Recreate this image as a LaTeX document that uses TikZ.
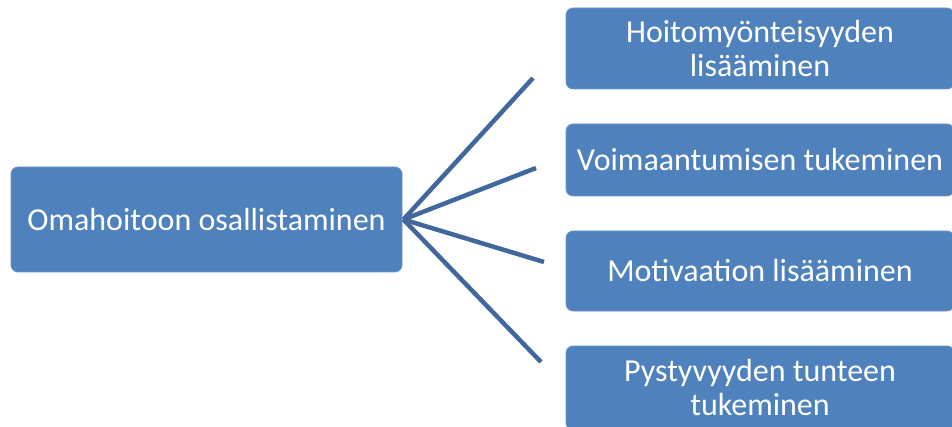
\documentclass[tikz,border=0pt]{standalone}
\usepackage{fontspec}
\setmainfont{Carlito}
\definecolor{boxblue}{HTML}{4F81BD}
\definecolor{boxedge}{HTML}{6A95CA}
\definecolor{linkblue}{HTML}{41689C}
\begin{document}
\begin{tikzpicture}[x=1pt,y=-1pt,
  topic/.style={draw=boxedge, line width=0.8pt, fill=boxblue, rounded corners=7pt,
    text=white, align=center, inner sep=0pt,
    font=\fontsize{32}{34}\selectfont},
  link/.style={draw=linkblue, line width=4.5pt}]
\useasboundingbox (0,0) rectangle (952,427);
\clip (0,0) rectangle (952,427);
% central box
\node[topic, minimum width=391pt, minimum height=105pt] (root) at (206.5,219.5)
  {Omahoitoon osallistaminen};
% branch boxes (partly running off the right and bottom edges)
\node[topic, minimum width=388pt, minimum height=81pt] (b1) at (760,48.5)
  {Hoitomyönteisyyden\\lisääminen};
\node[topic, minimum width=388pt, minimum height=72pt] (b2) at (760,160)
  {Voimaantumisen tukeminen};
\node[topic, minimum width=388pt, minimum height=80pt] (b3) at (760,271)
  {Motivaation lisääminen};
\node[topic, minimum width=388pt, minimum height=84pt] (b4) at (760,388)
  {Pystyvyyden tunteen\\tukeminen};
% free ends of the fan of lines
\coordinate (e1) at (533,78);
\coordinate (e2) at (536,168);
\coordinate (e3) at (544,262);
\coordinate (e4) at (541,362);
\foreach \e in {e1,e2,e3,e4}
  \draw[link] ([xshift=1pt]root.east) -- (\e);
\end{tikzpicture}
\end{document}
